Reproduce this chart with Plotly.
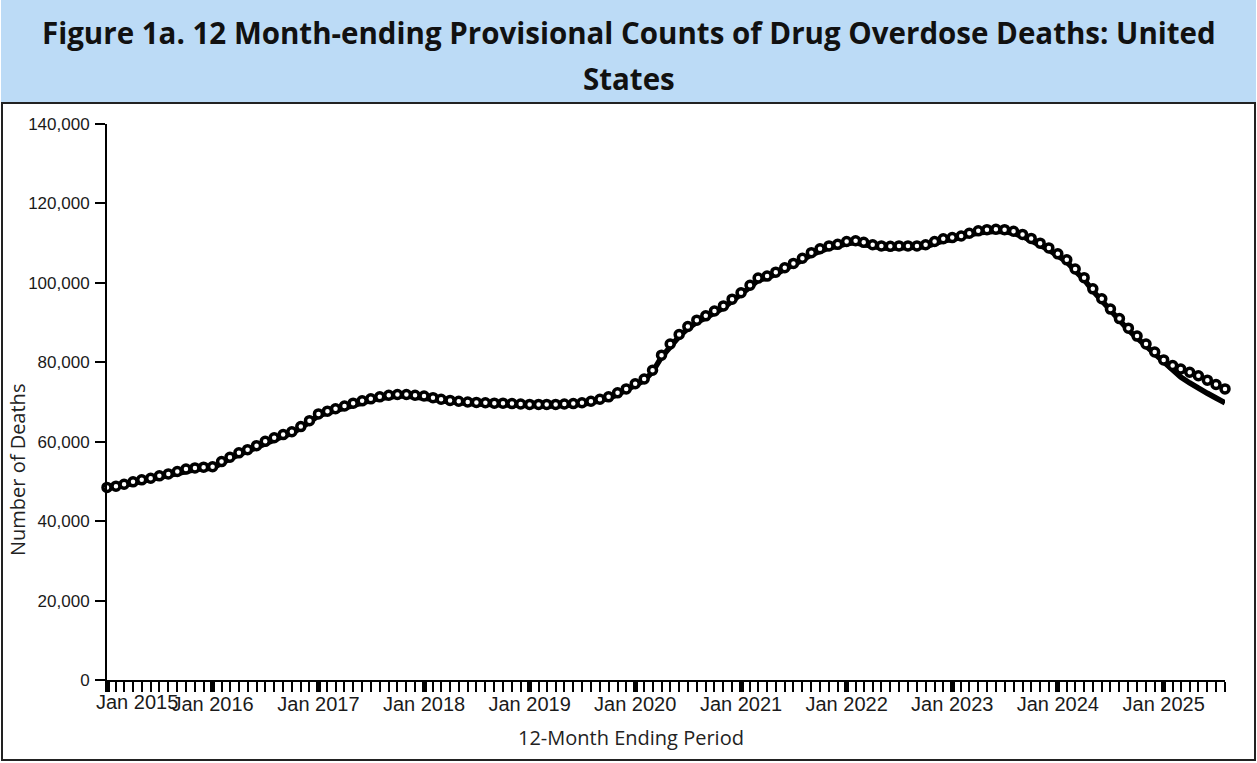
import plotly.graph_objects as go
import pandas as pd

# ---------------- data ----------------
start_month = "2015-01-01"
predicted_deaths = [
    48500, 48800, 49300, 49900, 50400, 50800, 51400, 51900, 52500, 53100, 53400, 53600,
    53700, 55000, 56100, 57200, 58000, 59000, 60100, 61000, 61800, 62500, 63800, 65300,
    67000, 67700, 68300, 69000, 69700, 70300, 70800, 71300, 71700, 71900, 71900, 71700,
    71500, 71100, 70700, 70400, 70200, 70000, 69900, 69800, 69700, 69700, 69600, 69500,
    69400, 69400, 69400, 69400, 69500, 69600, 69800, 70200, 70700, 71300, 72300, 73300,
    74600, 75800, 78000, 81800, 84600, 87000, 89000, 90600, 91700, 92900, 94200, 95900,
    97500, 99400, 101200, 101700, 102700, 103800, 104900, 106200, 107600, 108600, 109300, 109700,
    110400, 110600, 110200, 109600, 109300, 109200, 109300, 109300, 109300, 109600, 110400, 111100,
    111400, 111800, 112500, 113100, 113400, 113500, 113400, 113000, 112200, 111200, 110000, 108800,
    107300, 105800, 103500, 101300, 98500, 96000, 93400, 91000, 88600, 86600, 84600, 82600,
    80600, 79200, 78300, 77500, 76600, 75500, 74400, 73300,
]
reported_deaths = [
    48200, 48500, 49000, 49500, 50000, 50400, 51000, 51500, 52100, 52700, 53000, 53200,
    53300, 54600, 55700, 56800, 57600, 58600, 59700, 60600, 61400, 62100, 63400, 64900,
    66600, 67300, 67900, 68600, 69300, 69900, 70400, 70900, 71300, 71500, 71500, 71300,
    71100, 70700, 70300, 70000, 69800, 69600, 69500, 69400, 69300, 69300, 69200, 69100,
    69000, 69000, 69000, 69000, 69100, 69200, 69400, 69800, 70300, 70900, 71900, 72900,
    74200, 75400, 77600, 81300, 84100, 86500, 88500, 90100, 91200, 92400, 93700, 95400,
    97000, 98900, 100700, 101200, 102200, 103300, 104400, 105700, 107100, 108100, 108800, 109200,
    109900, 110100, 109700, 109100, 108800, 108700, 108800, 108800, 108800, 109100, 109900, 110600,
    110900, 111300, 112000, 112600, 112900, 113000, 112900, 112500, 111700, 110700, 109500, 108300,
    106800, 105300, 103000, 100800, 98000, 95500, 92900, 90500, 88100, 86100, 84100, 82100,
    80100, 78000, 76300, 74800, 73400, 72200, 71000, 69800,
]
major_tick_years = list(range(2015, 2026))
y_tick_values = [0, 20000, 40000, 60000, 80000, 100000, 120000, 140000]

title_line1 = "Figure 1a. 12 Month-ending Provisional Counts of Drug Overdose Deaths: United"
title_line2 = "States"
x_title = "12-Month Ending Period"
y_title = "Number of Deaths"

months = pd.date_range(start_month, periods=len(predicted_deaths), freq="MS")

# ---------------- layout geometry ----------------
W, H = 1257, 763
L, R, T, B = 107, 32, 124, 83
PW, PH = W - L - R, H - T - B

def px_x(px):
    return (px - L) / PW

def px_y(py):
    return (H - B - py) / PH

fig = go.Figure()

fig.add_trace(go.Scatter(
    x=months, y=reported_deaths, mode="lines",
    line=dict(color="black", width=5.5), cliponaxis=False,
    hoverinfo="skip", showlegend=False,
))
fig.add_trace(go.Scatter(
    x=months, y=predicted_deaths, mode="markers",
    marker=dict(symbol="circle", size=8, color="white",
                line=dict(color="black", width=3.5)),
    cliponaxis=False, showlegend=False,
))

major_ticks = [pd.Timestamp(year=y, month=1, day=1) for y in major_tick_years]
major_text = [""] + [t.strftime("Jan %Y") for t in major_ticks[1:]]

tick_font = dict(family="Liberation Sans, Arial", size=20, color="#1a1a1a")

fig.update_xaxes(
    type="date",
    range=[months[0], months[-1]],
    tickmode="array", tickvals=major_ticks, ticktext=major_text,
    ticks="outside", ticklen=10, tickwidth=5, tickcolor="black",
    tickfont=tick_font, ticklabelstandoff=-5,
    showline=True, linecolor="black", linewidth=2,
    showgrid=False, zeroline=False,
    minor=dict(tickmode="linear", tick0=start_month, dtick="M1",
               ticks="outside", ticklen=10, tickwidth=1.6, tickcolor="black",
               showgrid=False),
)
fig.update_yaxes(
    range=[0, 140000], tickmode="array", tickvals=y_tick_values,
    tickformat=",", ticks="outside", ticklen=10, tickwidth=1.6, tickcolor="black",
    tickfont=dict(family="Liberation Sans, Arial", size=17, color="#1a1a1a"),
    ticklabelstandoff=2,
    showline=True, linecolor="black", linewidth=2,
    showgrid=False, zeroline=False,
)

shapes = [
    dict(type="rect", xref="paper", yref="paper",
         x0=px_x(1), x1=px_x(1256), y0=px_y(103), y1=px_y(0),
         fillcolor="#bcdbf6", line=dict(width=0), layer="below"),
    dict(type="rect", xref="paper", yref="paper",
         x0=px_x(2), x1=px_x(1255), y0=px_y(760), y1=px_y(103),
         fillcolor="rgba(0,0,0,0)", line=dict(color="#222222", width=2), layer="below"),
]

annotations = [
    dict(text="<b>" + title_line1 + "</b>", xref="paper", yref="paper",
         x=px_x(629), y=px_y(33), xanchor="center", yanchor="middle", showarrow=False,
         font=dict(family="Open Sans", size=29.5, color="#111111")),
    dict(text="<b>" + title_line2 + "</b>", xref="paper", yref="paper",
         x=px_x(629), y=px_y(78), xanchor="center", yanchor="middle", showarrow=False,
         font=dict(family="Open Sans", size=29.5, color="#111111")),
    dict(text=x_title, xref="paper", yref="paper",
         x=px_x(631), y=px_y(737), xanchor="center", yanchor="middle", showarrow=False,
         font=dict(family="Open Sans", size=20, color="#222222")),
    dict(text=y_title, xref="paper", yref="paper", textangle=-90,
         x=px_x(17), y=px_y(470), xanchor="center", yanchor="middle", showarrow=False,
         font=dict(family="Open Sans", size=20, color="#222222")),
    dict(text=major_ticks[0].strftime("Jan %Y"), xref="x", yref="paper",
         x=major_ticks[0], y=px_y(702), xanchor="left", yanchor="middle", xshift=94 - L,
         showarrow=False, font=tick_font),
]

fig.update_layout(
    width=W, height=H, autosize=False,
    margin=dict(l=L, r=R, t=T, b=B, pad=0),
    paper_bgcolor="white", plot_bgcolor="white",
    shapes=shapes, annotations=annotations,
)

fig.write_html("out.html", config={"displayModeBar": False},
               post_script="document.body.style.margin='0px';")
